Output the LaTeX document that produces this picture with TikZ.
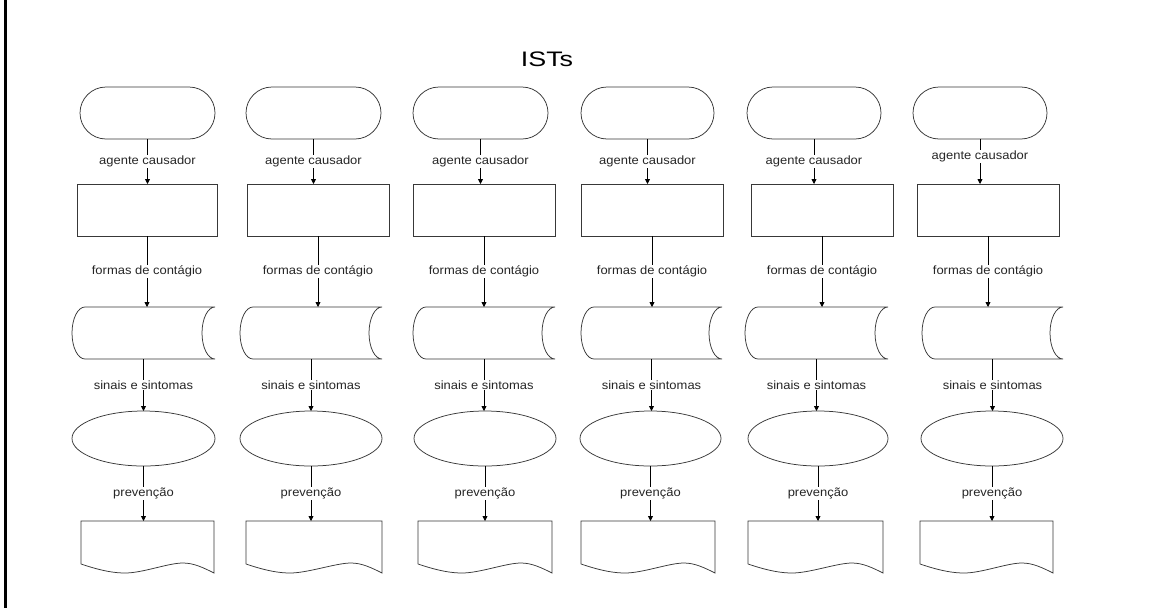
\documentclass[tikz,border=0pt]{standalone}
\usepackage{fontspec}
\setmainfont{Liberation Sans}
\newfontfamily\titlefont[FakeStretch=1.28]{Liberation Sans}
\newfontfamily\labelfont[FakeStretch=1.08]{Liberation Sans}
\usetikzlibrary{shapes.geometric,shapes.misc,arrows.meta}

% stored-data outline: convex left side, concave right side
\newcommand\storedoutline[1]{%
  \draw[outline] (#1.north east) -- ([xshift=13pt]#1.north west)
    .. controls ([xshift=5.8pt]#1.north west) and ([yshift=14.4pt]#1.west) .. (#1.west)
    .. controls ([yshift=-14.4pt]#1.west) and ([xshift=5.8pt]#1.south west) .. ([xshift=13pt]#1.south west)
    -- (#1.south east)
    .. controls ([xshift=-7.2pt]#1.south east) and ([xshift=-13pt,yshift=-14.4pt]#1.east) .. ([xshift=-13pt]#1.east)
    .. controls ([xshift=-13pt,yshift=14.4pt]#1.east) and ([xshift=-7.2pt]#1.north east) .. (#1.north east);}

% document outline: flat top, wavy bottom edge
\newcommand\docoutline[1]{%
  \draw[outline] ([yshift=9pt]#1.south west) -- (#1.north west) -- (#1.north east) -- (#1.south east)
    .. controls ([xshift=-10pt,yshift=5pt]#1.south east) and ([xshift=-20pt,yshift=10pt]#1.south east) .. ([xshift=-31pt,yshift=10pt]#1.south east)
    .. controls ([xshift=-46pt,yshift=10pt]#1.south east) and ([xshift=62pt]#1.south west) .. ([xshift=44pt]#1.south west)
    .. controls ([xshift=28pt]#1.south west) and ([xshift=12pt,yshift=5pt]#1.south west) .. ([yshift=9pt]#1.south west);}

\begin{document}
\begin{tikzpicture}[x=1pt,y=-1pt,
  outline/.style={draw=black!78, line width=0.75pt},
  terminal/.style={outline, rounded rectangle, inner sep=0pt, outer sep=0pt, minimum height=52pt},
  procbox/.style={outline, rectangle, inner sep=0pt, outer sep=0pt, minimum height=52pt},
  storebox/.style={rectangle, inner sep=0pt, outer sep=0pt, minimum height=52pt},
  ellipsebox/.style={outline, ellipse, inner sep=0pt, outer sep=0pt, minimum height=55pt},
  docbox/.style={rectangle, inner sep=0pt, outer sep=0pt, minimum height=52pt},
  flow/.style={draw=black, line width=0.75pt, -{Triangle[length=5pt,width=5pt]}},
  lbl/.style={fill=white, inner sep=1pt, text=black!85, font=\labelfont\fontsize{12}{14}\selectfont},
]
\useasboundingbox (0,0) rectangle (1150,608);
\fill[white] (0,0) rectangle (1150,608);
\draw[line width=3pt] (5,0) -- (5,608);

\node[font=\titlefont\fontsize{21}{24}\selectfont] (title) at (547,59) {ISTs};

\foreach \i/\tx/\tw/\rx/\rw/\sx/\sw/\ex/\ew/\dx/\dw/\ap in {
  1/147.5/135/147/140/143.5/143/143.5/143/147.5/133/0.5,
  2/313.5/135/318/142/311/142/311/142/314/136/0.5,
  3/480.5/135/484/142/484/142/485/142/485/134/0.5,
  4/647.5/133/652/142/651.5/141/650.5/141/648/134/0.5,
  5/814/134/822/142/816.5/143/818/140/815.5/135/0.5,
  6/980/134/988/142/992.5/141/992/142/986.5/133/0.38}{
  \node[terminal, minimum width=\tw pt] (t\i) at (\tx,113) {};
  \node[procbox, minimum width=\rw pt] (r\i) at (\rx,210) {};
  \node[storebox, minimum width=\sw pt] (s\i) at (\sx,333) {};
  \storedoutline{s\i}
  \node[ellipsebox, minimum width=\ew pt] (e\i) at (\ex,438.5) {};
  \node[docbox, minimum width=\dw pt] (p\i) at (\dx,547) {};
  \docoutline{p\i}
  \draw[flow] (t\i.south) -- (t\i.south |- r\i.north) node[lbl, pos=\ap] {agente causador};
  \draw[flow] (r\i.south) -- (r\i.south |- s\i.north) node[lbl, midway] {formas de contágio};
  \draw[flow] (s\i.south) -- (s\i.south |- e\i.north) node[lbl, midway] {sinais e sintomas};
  \draw[flow] (e\i.south) -- (e\i.south |- p\i.north) node[lbl, midway] {prevenção};
}
\end{tikzpicture}
\end{document}
